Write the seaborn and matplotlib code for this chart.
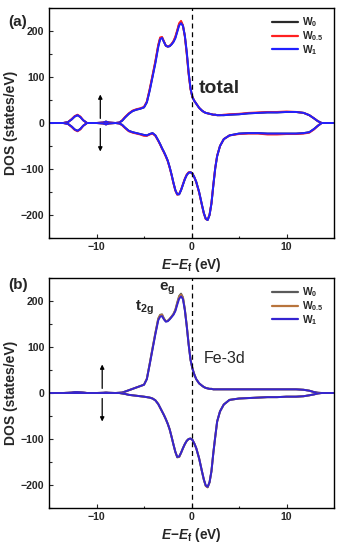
import matplotlib
matplotlib.use("Agg")
import matplotlib.pyplot as plt
from matplotlib.lines import Line2D
from matplotlib.ticker import MultipleLocator
import seaborn as sns
import pandas as pd

# ---------------- data ----------------
energy = [-15.0, -13.5, -13.0, -12.6, -12.3, -12.0, -11.7, -11.4, -11.0, -10.0,
          -9.3, -9.0, -8.7, -8.0, -7.6, -7.3, -7.0, -6.6, -6.2, -5.8,
          -5.4, -5.0, -4.7, -4.4, -4.1, -3.8, -3.5, -3.3, -3.1, -2.9,
          -2.7, -2.5, -2.3, -2.1, -1.9, -1.7, -1.5, -1.3, -1.1, -0.9,
          -0.7, -0.5, -0.3, -0.1, 0.1, 0.3, 0.5, 0.8, 1.1, 1.3,
          1.5, 1.7, 1.9, 2.1, 2.3, 2.5, 2.7, 3.0, 3.4, 4.0,
          5.0, 6.0, 7.0, 8.0, 9.0, 10.0, 11.0, 11.8, 12.4, 12.9,
          13.3, 13.7, 14.2, 15.0]

series_names = ["W0", "W0.5", "W1"]

# panel (a): total DOS
total_up_W0 = [0, 0, 2, 8, 14, 17, 13, 6, 0, 0,
               1, 3, 1, 0, 1, 5, 12, 20, 26, 29,
               31, 34, 45, 72, 102, 133, 168, 184, 186, 177,
               168, 166, 167, 171, 177, 186, 200, 215, 220, 212,
               189, 152, 108, 74, 56, 48, 42, 33, 27, 24,
               22, 21, 20, 19, 18, 18, 17, 17, 17, 18,
               19, 21, 22, 23, 23, 24, 24, 22, 17, 10,
               4, 0, 0, 0]
total_up_W05 = [0, 0, 2, 9, 15, 18, 14, 6, 0, 0,
                1, 3, 1, 0, 1, 6, 13, 21, 27, 30,
                32, 35, 47, 74, 104, 135, 170, 186, 187, 177,
                168, 166, 168, 172, 178, 188, 202, 217, 222, 212,
                188, 150, 106, 73, 56, 48, 42, 33, 27, 24,
                22, 21, 20, 19, 18, 18, 17, 17, 18, 19,
                20, 22, 23, 24, 24, 25, 24, 22, 17, 10,
                4, 0, 0, 0]
total_up_W1 = [0, 0, 2, 8, 14, 17, 13, 6, 0, 0,
               1, 3, 1, 0, 1, 5, 12, 20, 26, 29,
               31, 34, 45, 70, 100, 130, 165, 182, 185, 176,
               168, 166, 167, 171, 176, 184, 198, 212, 217, 211,
               190, 155, 110, 75, 56, 48, 42, 33, 27, 24,
               22, 21, 20, 19, 18, 18, 17, 17, 17, 18,
               19, 21, 22, 23, 23, 24, 24, 22, 17, 10,
               4, 0, 0, 0]
total_dn_W0 = [0, 0, -2, -8, -14, -17, -13, -6, 0, 0,
               -1, -3, -1, 0, -1, -4, -10, -17, -20, -22,
               -24, -26, -27, -24, -22, -27, -38, -46, -55, -63,
               -72, -82, -96, -112, -130, -146, -155, -155, -146, -134,
               -122, -113, -108, -107, -110, -118, -128, -150, -178, -196,
               -208, -211, -200, -175, -135, -98, -72, -50, -35, -27,
               -23, -22, -22, -23, -23, -23, -23, -22, -20, -13,
               -6, 0, 0, 0]
total_dn_W05 = [0, 0, -2, -9, -15, -18, -14, -6, 0, 0,
                -1, -3, -1, 0, -1, -5, -11, -18, -21, -23,
                -25, -28, -28, -25, -23, -28, -39, -47, -56, -64,
                -73, -83, -97, -113, -131, -147, -156, -154, -145, -133,
                -121, -112, -107, -107, -110, -118, -129, -151, -179, -197,
                -209, -210, -199, -174, -134, -97, -71, -50, -35, -27,
                -24, -23, -23, -25, -25, -24, -24, -23, -21, -14,
                -6, 0, 0, 0]
total_dn_W1 = [0, 0, -2, -8, -14, -17, -13, -6, 0, 0,
               -1, -3, -1, 0, -1, -4, -10, -17, -20, -22,
               -24, -26, -27, -24, -22, -27, -38, -46, -55, -63,
               -72, -82, -96, -112, -130, -146, -155, -155, -146, -134,
               -122, -113, -108, -107, -110, -118, -128, -150, -178, -196,
               -208, -211, -200, -175, -135, -98, -72, -50, -35, -27,
               -23, -22, -22, -23, -23, -23, -23, -22, -20, -13,
               -6, 0, 0, 0]

# panel (b): Fe-3d DOS
fe_up_W0 = [0, 0, 0.5, 1, 2, 2, 1.5, 1, 0, 0,
            0.5, 1, 0.5, 0, 0.5, 1, 3, 6, 9, 12,
            15, 18, 31, 64, 98, 131, 162, 170, 171, 162,
            156, 157, 161, 166, 172, 181, 197, 211, 216, 208,
            182, 146, 106, 72, 53, 40, 30, 21, 16, 13,
            11, 10, 9, 9, 8, 8, 8, 8, 8, 8,
            8, 8, 8, 8, 8, 8, 8, 7, 5, 2,
            0.5, 0, 0, 0]
fe_up_W05 = [0, 0, 0.5, 1, 2, 2, 1.5, 1, 0, 0,
             0.5, 1, 0.5, 0, 0.5, 1, 3, 6, 9, 12,
             15, 18, 31, 63, 97, 130, 161, 169, 170, 161,
             156, 157, 161, 166, 171, 180, 195, 209, 214, 207,
             181, 146, 106, 72, 53, 40, 30, 21, 16, 13,
             11, 10, 9, 9, 8, 8, 8, 8, 8, 8,
             8, 8, 8, 8, 8, 8, 8, 7, 5, 2,
             0.5, 0, 0, 0]
fe_up_W1 = [0, 0, 0.5, 1, 2, 2, 1.5, 1, 0, 0,
            0.5, 1, 0.5, 0, 0.5, 1, 3, 6, 9, 12,
            15, 18, 30, 62, 95, 128, 158, 166, 167, 160,
            155, 156, 160, 165, 170, 178, 192, 205, 210, 204,
            180, 145, 105, 72, 53, 40, 30, 21, 16, 13,
            11, 10, 9, 9, 8, 8, 8, 8, 8, 8,
            8, 8, 8, 8, 8, 8, 8, 7, 5, 2,
            0.5, 0, 0, 0]
fe_dn_W0 = [0, 0, 0, 0, 0, 0, 0, 0, 0, 0,
            0, 0, 0, 0, 0, -1, -2, -4, -5, -6,
            -7, -8, -9, -10, -12, -16, -24, -32, -40, -48,
            -57, -67, -79, -95, -112, -128, -140, -139, -130, -120,
            -111, -104, -100, -99, -102, -110, -120, -142, -171, -189,
            -202, -205, -194, -170, -130, -95, -62, -40, -25, -15,
            -12, -11, -10, -9, -9, -8, -8, -7, -5, -3,
            -1, 0, 0, 0]
fe_dn_W05 = [0, 0, 0, 0, 0, 0, 0, 0, 0, 0,
             0, 0, 0, 0, 0, -1, -2, -4, -5, -6,
             -7, -8, -9, -10, -12, -16, -24, -32, -40, -48,
             -57, -67, -79, -95, -112, -128, -139, -139, -130, -120,
             -111, -104, -100, -99, -102, -110, -120, -142, -170, -188,
             -202, -205, -194, -170, -130, -95, -62, -40, -25, -15,
             -12, -11, -10, -9, -9, -8, -8, -7, -5, -3,
             -1, 0, 0, 0]
fe_dn_W1 = [0, 0, 0, 0, 0, 0, 0, 0, 0, 0,
            0, 0, 0, 0, 0, -1, -2, -4, -5, -6,
            -7, -8, -9, -10, -12, -16, -24, -32, -40, -48,
            -57, -67, -79, -95, -112, -128, -139, -138, -130, -120,
            -111, -104, -100, -99, -102, -110, -120, -142, -170, -188,
            -201, -204, -194, -170, -130, -95, -62, -40, -25, -15,
            -12, -11, -10, -9, -9, -8, -8, -7, -5, -3,
            -1, 0, 0, 0]

legend_labels = [r"W$_{\mathbf{0}}$", r"W$_{\mathbf{0.5}}$", r"W$_{\mathbf{1}}$"]
x_ticks = [-10, 0, 10]
y_ticks = [-200, -100, 0, 100, 200]

# ---------------- style ----------------
sns.set_style("ticks")
plt.rcParams["font.family"] = ["Liberation Sans", "DejaVu Sans"]
plt.rcParams["font.weight"] = "bold"
plt.rcParams["mathtext.fontset"] = "custom"
plt.rcParams["mathtext.rm"] = "Liberation Sans:bold"
plt.rcParams["mathtext.bf"] = "Liberation Sans:bold"
plt.rcParams["mathtext.it"] = "Liberation Sans:italic:bold"

pal_a = {"W0": "#2a2a2a", "W0.5": "#ff2020", "W1": "#2020ff"}
pal_b = {"W0": "#5a5a5a", "W0.5": "#b8743c", "W1": "#3424d0"}

fig = plt.figure(figsize=(3.41, 5.5), dpi=100)
W, H = 341, 550


def make_axes(top_px, bottom_px):
    left, right = 49, 334
    return fig.add_axes([left / W, 1 - bottom_px / H, (right - left) / W,
                         (bottom_px - top_px) / H])


def long_df(vals):
    frames = []
    for name, v in zip(series_names, vals):
        frames.append(pd.DataFrame({"E": energy, "DOS": v, "series": name}))
    return pd.concat(frames, ignore_index=True)


def draw_panel(ax, up_vals, dn_vals, pal, arrow_x):
    for vals in (up_vals, dn_vals):
        sns.lineplot(data=long_df(vals), x="E", y="DOS", hue="series",
                     hue_order=series_names, palette=pal, estimator=None,
                     sort=False, lw=1.4, legend=False, ax=ax)
    ax.axvline(0, color="black", lw=0.9, ls=(0, (4, 3)))
    ax.set_xlim(-15, 15)
    ax.set_ylim(-250, 250)
    ax.set_xticks(x_ticks)
    ax.set_yticks(y_ticks)
    ax.set_xticklabels(["\u221210", "0", "10"])
    ax.set_yticklabels(["\u2212200", "\u2212100", "0", "100", "200"])
    ax.xaxis.set_minor_locator(MultipleLocator(5))
    ax.yaxis.set_minor_locator(MultipleLocator(50))
    ax.tick_params(which="both", direction="in", width=0.8, labelsize=7.6)
    ax.tick_params(which="major", length=3, pad=3.2)
    ax.tick_params(which="minor", length=1.8)
    for lab in ax.get_xticklabels() + ax.get_yticklabels():
        lab.set_fontweight("bold")
    for s in ax.spines.values():
        s.set_linewidth(1.0)
        s.set_color("black")
    ax.set_xlabel(r"$E$$-$$E_{\rm f}$ (eV)", fontsize=9.8, fontweight="bold")
    ax.xaxis.label.set_va("center")
    ax.xaxis.set_label_coords(0.5, -0.118)
    ax.set_ylabel("DOS (states/eV)", fontsize=10, fontweight="bold")
    ax.yaxis.label.set_va("center")
    ax.yaxis.set_label_coords(-0.135, 0.5)
    # spin arrows
    ax.annotate("", xy=(arrow_x, 62), xytext=(arrow_x, 10),
                arrowprops=dict(arrowstyle="-|>", color="black", lw=0.9,
                                mutation_scale=6, shrinkA=0, shrinkB=0))
    ax.annotate("", xy=(arrow_x, -62), xytext=(arrow_x, -12),
                arrowprops=dict(arrowstyle="-|>", color="black", lw=0.9,
                                mutation_scale=6, shrinkA=0, shrinkB=0))
    handles = [Line2D([], [], color=pal[n], lw=1.6) for n in series_names]
    ax.legend(handles, legend_labels, loc="upper right", frameon=False,
              fontsize=7.4, handlelength=2.5, handletextpad=0.4,
              labelspacing=0.0, borderaxespad=0.2,
              bbox_to_anchor=(0.985, 0.995))


ax_a = make_axes(8, 238)
draw_panel(ax_a, [total_up_W0, total_up_W05, total_up_W1],
           [total_dn_W0, total_dn_W05, total_dn_W1], pal_a, -9.6)
ax_a.text(0.75, 74, "total", fontsize=14, fontweight="bold", va="center")

ax_b = make_axes(278, 508)
draw_panel(ax_b, [fe_up_W0, fe_up_W05, fe_up_W1],
           [fe_dn_W0, fe_dn_W05, fe_dn_W1], pal_b, -9.4)
ax_b.text(1.3, 75, "Fe-3d", fontsize=11.5, fontweight="normal", va="center")
ax_b.text(-5.9, 185, r"t$_{\rm 2g}$", fontsize=11, fontweight="bold", va="center")
ax_b.text(-3.4, 226, r"e$_{\rm g}$", fontsize=11, fontweight="bold", va="center")

fig.text(8 / W, 1 - 22 / H, "(a)", fontsize=11, fontweight="bold", va="center")
fig.text(8 / W, 1 - 285 / H, "(b)", fontsize=11, fontweight="bold", va="center")

fig.savefig("out.png", dpi=100)
